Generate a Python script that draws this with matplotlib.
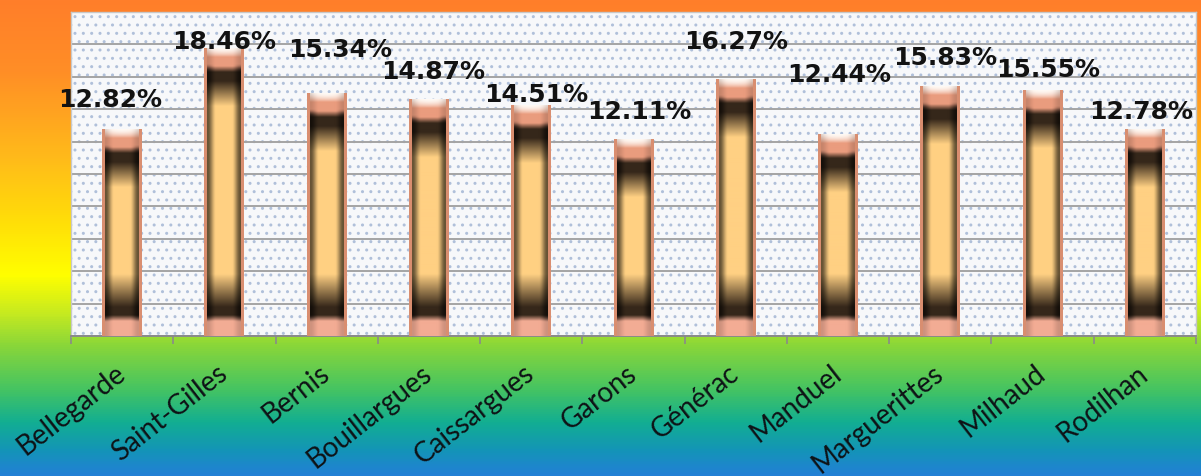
import numpy as np
import matplotlib
matplotlib.use("Agg")
import matplotlib.pyplot as plt
from matplotlib.patches import Rectangle
from matplotlib.colors import LinearSegmentedColormap, to_rgb

# ---- data ----
communes = ["Bellegarde", "Saint-Gilles", "Bernis", "Bouillargues", "Caissargues",
            "Garons", "Générac", "Manduel", "Marguerittes", "Milhaud", "Rodilhan"]
values = [12.82, 18.46, 15.34, 14.87, 14.51, 12.11, 16.27, 12.44, 15.83, 15.55, 12.78]
value_labels = ["12.82%", "18.46%", "15.34%", "14.87%", "14.51%", "12.11%",
                "16.27%", "12.44%", "15.83%", "15.55%", "12.78%"]
# label placement (style): offsets above each bar top (data units) and horizontal shift
label_dy = [2.1, 0.55, 3.05, 2.0, 0.8, 2.0, 2.7, 4.25, 2.05, 1.45, 1.3]
label_dx = [-0.12, 0.0, 0.13, 0.04, 0.05, 0.06, 0.0, 0.01, 0.05, 0.05, -0.04]

W, H, DPI = 1201, 477, 100
fig = plt.figure(figsize=(W / DPI, H / DPI), dpi=DPI)

# ---- background gradient ----
bg = fig.add_axes([0, 0, 1, 1])
bg.set_axis_off()
stops = [(0.0, "#FF7E2A"), (0.15, "#FF8E26"), (0.33, "#FFBA1A"), (0.47, "#FFDF08"),
         (0.58, "#FFFF00"), (0.66, "#C6EA20"), (0.73, "#88D63A"), (0.82, "#45C462"),
         (0.89, "#12AE92"), (0.95, "#1494B8"), (1.0, "#2280D6")]
cmap_bg = LinearSegmentedColormap.from_list("bg", stops)
grad = np.linspace(0, 1, 477).reshape(-1, 1)
bg.imshow(grad, aspect="auto", cmap=cmap_bg, extent=(0, 1, 0, 1), origin="upper")
bg.set_xlim(0, 1)
bg.set_ylim(0, 1)

# ---- plot area ----
left, right = 71 / W, 1196 / W
bottom, top = 1 - 337 / H, 1 - 13 / H
ax = fig.add_axes([left, bottom, right - left, top - bottom])
ax.patch.set_alpha(0)
ax.add_patch(Rectangle((0, 0), 1, 1, transform=ax.transAxes, facecolor="#F7F8FA",
                       edgecolor="#B0C0DA", hatch="..", linewidth=0, zorder=0))

ymin, ymax = -1.6, 21.0
x = np.arange(len(communes))
ax.set_xlim(-0.5, len(communes) - 0.5)
ax.set_ylim(ymin, ymax)
ax.set_yticks(np.linspace(ymin, ymax, 11))
ax.yaxis.grid(True, color="#A4A4A4", linewidth=1.4, zorder=1)
ax.set_axisbelow(True)
ax.tick_params(axis="y", length=0, labelleft=False)

bw = 0.39
bars = ax.bar(x, np.array(values) - ymin, bottom=ymin, width=bw,
              color="#E8A080", zorder=2, linewidth=0)

# ---- cylinder-like shading for each bar ----
cap_white = np.array(to_rgb("#FCEDE4"))
salmon = np.array(to_rgb("#EA9C7E"))
dark = np.array(to_rgb("#35271A"))
beige = np.array(to_rgb("#FFD083"))
bot_salmon = np.array(to_rgb("#F3AC94"))
outline = np.array(to_rgb("#D98E70"))


def interp_stops(d, st):
    ds = [s[0] for s in st]
    out = np.zeros((len(d), 3))
    for k in range(3):
        out[:, k] = np.interp(d, ds, [s[1][k] for s in st])
    return out


upper = [(0, cap_white), (9, salmon), (18, salmon), (24, dark), (33, dark), (58, beige)]
lower = [(0, bot_salmon), (15, bot_salmon), (21, dark), (29, dark), (62, beige)]

fig.canvas.draw()
for rect in bars:
    x0, y0 = rect.get_x(), rect.get_y()
    x1, y1 = x0 + rect.get_width(), y0 + rect.get_height()
    (px0, py0), (px1, py1) = ax.transData.transform([(x0, y0), (x1, y1)])
    hp = max(int(round(py1 - py0)), 2)
    wp = max(int(round(px1 - px0)), 2)
    dtop = np.arange(hp) + 0.5
    dbot = hp - dtop
    col = np.tile(beige, (hp, 1))
    mu = dtop < 58
    col[mu] = interp_stops(dtop[mu], upper)
    ml = dbot < 62
    col[ml] = interp_stops(dbot[ml], lower)
    u = np.linspace(-1, 1, wp)
    au = np.abs(u)
    t = np.clip((au - 0.40) / (0.84 - 0.40), 0, 1)
    shade = 1 - 0.6 * (t * t * (3 - 2 * t))
    capw = np.clip(1 - (dtop - 16) / 6.0, 0, 1) + np.clip(1 - (dbot - 14) / 6.0, 0, 1)
    capw = np.clip(capw, 0, 1)[:, None]
    sh = shade[None, :] * (1 - capw) + (1 - 0.25 * (1 - shade[None, :])) * capw
    img = col[:, None, :] * sh[..., None]
    hl = np.clip(1 - dtop / 9.0, 0, 1)[:, None] * np.clip(1 - au ** 2, 0, 1)[None, :]
    img = img * (1 - hl[..., None]) + np.array([1.0, 0.98, 0.96]) * hl[..., None]
    edge = au > 0.87
    img[:, edge, :] = outline
    ax.imshow(img, extent=(x0, x1, y0, y1), aspect="auto", origin="upper",
              interpolation="bilinear", zorder=3)

ax.set_xlim(-0.5, len(communes) - 0.5)
ax.set_ylim(ymin, ymax)

# ---- value labels ----
for i, (v, lab) in enumerate(zip(values, value_labels)):
    ax.text(x[i] + label_dx[i], v + label_dy[i], lab, ha="center", va="center",
            fontsize=18, fontweight="bold", family="DejaVu Sans", color="#121212",
            zorder=5, clip_on=False)

# ---- x axis ----
ax.set_xticks(x)
ax.set_xticklabels(communes, rotation=38, ha="right", va="center",
                   rotation_mode="anchor", fontsize=20, family="Lato", color="#0E1216")
ax.tick_params(axis="x", which="major", length=0, pad=24)
ax.set_xticks(np.arange(-0.5, len(communes), 1.0), minor=True)
ax.tick_params(axis="x", which="minor", length=6, width=1.2, color="#8A8A8A", direction="out")

for s in ["left", "right", "top"]:
    ax.spines[s].set_color("#C8C8C8")
    ax.spines[s].set_linewidth(1.0)
ax.spines["bottom"].set_color("#8A8A8A")
ax.spines["bottom"].set_linewidth(1.4)

fig.savefig("out.png", dpi=DPI)
